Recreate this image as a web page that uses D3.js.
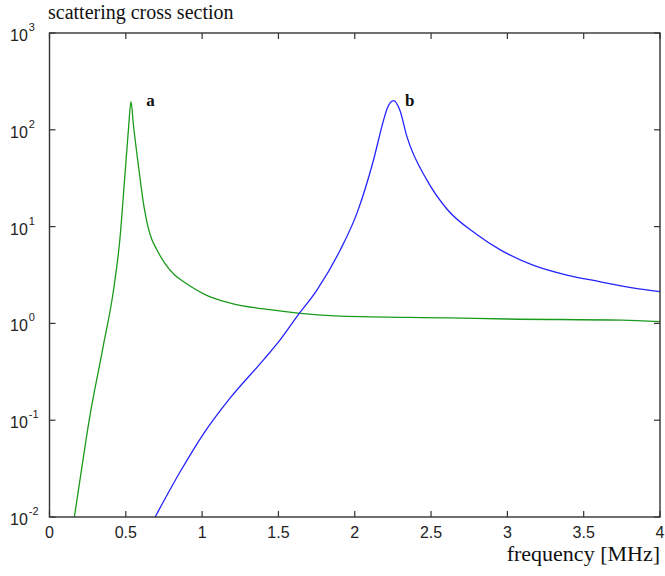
<!DOCTYPE html>
<html>
<head>
<meta charset="UTF-8" />
<title>scattering cross section</title>
<script src="https://d3js.org/d3.v7.min.js"></script>
<style>
  body { margin: 0; background: #fff; }
  svg { display: block; }
  .tick-label { font-family: "Liberation Sans", Arial, sans-serif; font-size: 16px; fill: #222; }
  .serif { font-family: "Liberation Serif", "Times New Roman", serif; fill: #111; }
</style>
</head>
<body>
<svg id="chart"></svg>
<script>
  // frequency [MHz] and scattering cross section, curve a (green)
  const freqA = [0.163, 0.21, 0.26, 0.35, 0.42, 0.46, 0.495, 0.517, 0.534,
                 0.55, 0.583, 0.62, 0.645, 0.67, 0.70, 0.757, 0.82, 0.889, 1.03, 1.184, 1.468, 1.643, 1.905,
                 2.62, 3.0, 3.75, 4.0];
  const sigmaA = [0.01, 0.031, 0.1, 0.56, 2.24, 7.1, 35.5, 100, 195,
                  112, 42, 15.8, 10, 7.4, 5.9, 4.15, 3.16, 2.63, 1.95, 1.62, 1.37, 1.27, 1.19,
                  1.14, 1.11, 1.08, 1.045];

  // curve b (blue)
  const freqB = [0.692, 0.857, 1.009, 1.184, 1.402, 1.511, 1.621, 1.752, 1.905, 2.014, 2.123, 2.189,
                 2.215, 2.255, 2.295, 2.342, 2.473, 2.605, 2.8, 2.954, 3.172, 3.39, 3.61, 3.83, 4.0];
  const sigmaB = [0.01, 0.0295, 0.0724, 0.17, 0.42, 0.676, 1.175, 2.21, 5.73, 13.7, 48.8, 126,
                  170, 200, 160, 85, 30.2, 15.1, 8.3, 5.75, 3.98, 3.16, 2.69, 2.31, 2.13];

  const xTicks = [0, 0.5, 1, 1.5, 2, 2.5, 3, 3.5, 4];
  const xTickLabels = ["0", "0.5", "1", "1.5", "2", "2.5", "3", "3.5", "4"];
  const yExponents = [-2, -1, 0, 1, 2, 3];

  const width = 665, height = 576;
  const margin = { top: 33, right: 5, bottom: 59, left: 49.5 };

  const svg = d3.select("#chart")
    .attr("width", width)
    .attr("height", height);

  const x = d3.scaleLinear().domain([0, 4]).range([margin.left, width - margin.right]);
  const y = d3.scaleLog().domain([0.01, 1000]).range([height - margin.bottom, margin.top]);

  const x0 = x.range()[0], x1 = x.range()[1];
  const yTop = y.range()[1], yBot = y.range()[0];

  // curves, clipped to the plot box
  svg.append("clipPath").attr("id", "clip")
    .append("rect").attr("x", x0).attr("y", yTop).attr("width", x1 - x0).attr("height", yBot - yTop);

  const line = d3.line()
    .x(d => x(d[0]))
    .y(d => y(d[1]))
    .curve(d3.curveMonotoneX);

  const plot = svg.append("g").attr("clip-path", "url(#clip)");
  plot.append("path")
    .datum(d3.zip(freqA, sigmaA))
    .attr("d", line)
    .attr("fill", "none")
    .attr("stroke", "#1a9a1a")
    .attr("stroke-width", 1.3);
  plot.append("path")
    .datum(d3.zip(freqB, sigmaB))
    .attr("d", line)
    .attr("fill", "none")
    .attr("stroke", "#2424ff")
    .attr("stroke-width", 1.3);

  // box with inward ticks on all four sides
  const axisColor = "#333";
  const tickLen = 6;
  const tickG = svg.append("g").attr("stroke", axisColor).attr("stroke-width", 1.2);

  xTicks.forEach(t => {
    tickG.append("line").attr("x1", x(t)).attr("x2", x(t)).attr("y1", yBot).attr("y2", yBot - tickLen);
    tickG.append("line").attr("x1", x(t)).attr("x2", x(t)).attr("y1", yTop).attr("y2", yTop + tickLen);
  });
  yExponents.forEach(e => {
    const v = Math.pow(10, e);
    tickG.append("line").attr("x1", x0).attr("x2", x0 + tickLen).attr("y1", y(v)).attr("y2", y(v));
    tickG.append("line").attr("x1", x1).attr("x2", x1 - tickLen).attr("y1", y(v)).attr("y2", y(v));
  });

  svg.append("rect")
    .attr("x", x0).attr("y", yTop)
    .attr("width", x1 - x0).attr("height", yBot - yTop)
    .attr("fill", "none")
    .attr("stroke", axisColor)
    .attr("stroke-width", 1.4);

  // x tick labels
  svg.append("g").selectAll("text")
    .data(xTicks)
    .join("text")
    .attr("class", "tick-label")
    .attr("x", d => x(d))
    .attr("y", yBot + 21)
    .attr("text-anchor", "middle")
    .text((d, i) => xTickLabels[i]);

  // y tick labels: 10 with superscript exponent
  const yLab = svg.append("g").selectAll("text")
    .data(yExponents)
    .join("text")
    .attr("class", "tick-label")
    .attr("x", 10)
    .attr("y", d => y(Math.pow(10, d)) + 8);
  yLab.append("tspan").text("10");
  yLab.append("tspan")
    .attr("dx", 1)
    .attr("dy", -10)
    .attr("font-size", "11px")
    .text(d => d);

  // title and axis label
  svg.append("text")
    .attr("class", "serif")
    .attr("x", 48)
    .attr("y", 19)
    .attr("font-size", "20px")
    .text("scattering cross section");

  svg.append("text")
    .attr("class", "serif")
    .attr("x", 660)
    .attr("y", 561)
    .attr("text-anchor", "end")
    .attr("font-size", "22px")
    .text("frequency [MHz]");

  // curve labels
  svg.append("text")
    .attr("class", "serif")
    .attr("x", x(0.634))
    .attr("y", y(200) + 5)
    .attr("font-size", "17px")
    .attr("font-weight", "bold")
    .text("a");

  svg.append("text")
    .attr("class", "serif")
    .attr("x", x(2.33))
    .attr("y", y(200) + 5)
    .attr("font-size", "17px")
    .attr("font-weight", "bold")
    .text("b");
</script>
</body>
</html>
